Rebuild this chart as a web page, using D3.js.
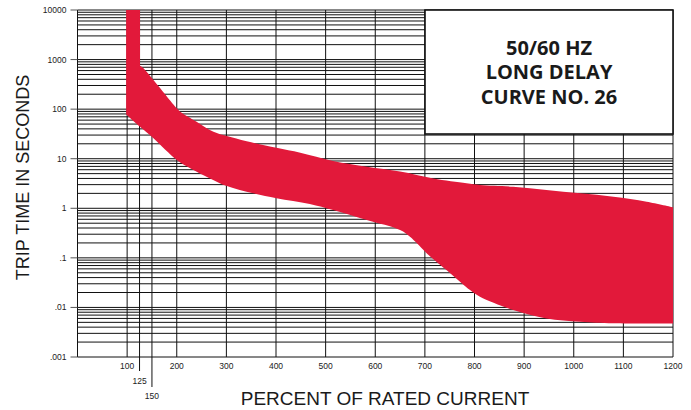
<!DOCTYPE html>
<html>
<head>
<meta charset="utf-8">
<script src="https://cdn.jsdelivr.net/npm/d3@7"></script>
<style>
  body { margin: 0; background: #fff; }
  svg { display: block; }
</style>
</head>
<body>
<div id="chartDiv"></div>
<script>
  // tick values
  const xTicks = [100, 200, 300, 400, 500, 600, 700, 800, 900, 1000, 1100, 1200];
  const xExtraTicks = [125, 150];
  const yDecades = [0.001, 0.01, 0.1, 1, 10, 100, 1000, 10000];
  const yTickLabels = [".001", ".01", ".1", "1", "10", "100", "1000", "10000"];

  // upper (max trip time) edge of the band: [percent, seconds]
  const upperCurve = [
      [126, 10000], [126, 750], [133, 667], [153, 387], [200, 104], [207, 89],
      [240, 56], [274, 35], [301, 28.7], [341, 22.5], [401, 16.6], [449, 13.2],
      [515, 9.0], [583, 6.9], [650, 5.5], [717, 4.0], [784, 3.2], [811, 2.95],
      [878, 2.72], [945, 2.34], [1013, 2.0], [1080, 1.71], [1147, 1.36], [1200, 1.05]
  ];
  // lower (min trip time) edge of the band
  const lowerCurve = [
      [98, 10000], [98, 78], [126, 44], [153, 25.8], [200, 9.4], [227, 6.4],
      [267, 4.0], [301, 2.8], [354, 2.0], [401, 1.59], [468, 1.22], [515, 0.92],
      [583, 0.58], [650, 0.365], [670, 0.267], [684, 0.196], [704, 0.123],
      [751, 0.049], [791, 0.0224], [811, 0.0164], [878, 0.0089], [945, 0.006],
      [1013, 0.00515], [1080, 0.00479], [1200, 0.00475]
  ];

  const titleLines = ["50/60 HZ", "LONG DELAY", "CURVE NO. 26"];

  const W = 691, H = 410;
  const margin = { top: 10, right: 18, bottom: 53, left: 77.5 };

  const svg = d3.select("#chartDiv")
      .append("svg")
      .attr("width", W)
      .attr("height", H);

  const x = d3.scaleLinear()
      .domain([0, 1200])
      .range([margin.left, W - margin.right]);
  const y = d3.scaleLog()
      .domain([0.001, 10000])
      .range([H - margin.bottom, margin.top]);

  const x0 = x(0), x1 = x(1200), yTop = y(10000), yBot = y(0.001);

  // horizontal log grid: 1..9 in each decade
  const minor = [];
  yDecades.forEach(function(d, i) {
      if (i === yDecades.length - 1) { minor.push(d); return; }
      for (let k = 1; k < 10; k++) minor.push(d * k);
  });
  svg.append("g")
      .selectAll("line")
      .data(minor)
      .enter()
      .append("line")
      .attr("x1", x0)
      .attr("x2", x1)
      .attr("y1", d => y(d))
      .attr("y2", d => y(d))
      .style("stroke", "#111")
      .style("stroke-width", 1);

  // vertical grid
  const vLines = [0].concat(xTicks, xExtraTicks);
  svg.append("g")
      .selectAll("line")
      .data(vLines)
      .enter()
      .append("line")
      .attr("x1", d => x(d))
      .attr("x2", d => x(d))
      .attr("y1", yTop)
      .attr("y2", function(d) {
          if (d === 125) return yBot + 14;
          if (d === 150) return yBot + 30;
          return yBot;
      })
      .style("stroke", "#111")
      .style("stroke-width", 1);

  // red band: straight vertical part, then smooth edges
  const edge = d3.line()
      .x(d => x(d[0]))
      .y(d => y(d[1]))
      .curve(d3.curveCatmullRom.alpha(0.5));
  const pt = d => x(d[0]) + "," + y(d[1]);
  const upPath = edge(upperCurve.slice(1));
  const lowPath = edge(lowerCurve.slice(1).reverse());
  const bandD = "M" + pt(lowerCurve[0]) + "L" + pt(upperCurve[0]) +
      "L" + upPath.slice(1) + "L" + lowPath.slice(1) + "Z";
  svg.append("path")
      .attr("d", bandD)
      .style("fill", "#e2193a")
      .style("stroke", "none");

  // y ticks and labels
  svg.append("g")
      .selectAll("line")
      .data(yDecades)
      .enter()
      .append("line")
      .attr("x1", x0 - 7)
      .attr("x2", x0)
      .attr("y1", d => y(d))
      .attr("y2", d => y(d))
      .style("stroke", "#555");
  svg.append("g")
      .selectAll("text")
      .data(yDecades)
      .enter()
      .append("text")
      .attr("x", x0 - 11)
      .attr("y", d => y(d))
      .attr("dy", "0.35em")
      .attr("text-anchor", "end")
      .style("font-family", "'Liberation Sans', Arial, sans-serif")
      .style("font-size", "8.5px")
      .style("fill", "#222")
      .text((d, i) => yTickLabels[i]);

  // x labels
  const xLabelData = xTicks.map(d => ({ v: d, y: yBot + 12 }))
      .concat([{ v: 125, y: yBot + 26.5 }, { v: 150, y: yBot + 42 }]);
  svg.append("g")
      .selectAll("text")
      .data(xLabelData)
      .enter()
      .append("text")
      .attr("x", d => x(d.v))
      .attr("y", d => d.y)
      .attr("text-anchor", "middle")
      .style("font-family", "'Liberation Sans', Arial, sans-serif")
      .style("font-size", "8.5px")
      .style("fill", "#222")
      .text(d => d.v);

  // axis titles
  svg.append("text")
      .attr("transform", "translate(28.5,177.5) rotate(-90)")
      .attr("text-anchor", "middle")
      .style("font-family", "'Liberation Sans', Arial, sans-serif")
      .style("font-size", "18px")
      .style("fill", "#1a1a1a")
      .text("TRIP TIME IN SECONDS");
  svg.append("text")
      .attr("x", 385)
      .attr("y", 405)
      .attr("text-anchor", "middle")
      .style("font-family", "'Liberation Sans', Arial, sans-serif")
      .style("font-size", "19px")
      .style("fill", "#1a1a1a")
      .text("PERCENT OF RATED CURRENT");

  // title box
  const boxX = 425, boxW = x1 - 425, boxH = 124;
  svg.append("rect")
      .attr("x", boxX)
      .attr("y", yTop)
      .attr("width", boxW)
      .attr("height", boxH)
      .style("fill", "#fff")
      .style("stroke", "#111")
      .style("stroke-width", 1.6);
  svg.append("g")
      .selectAll("text")
      .data(titleLines)
      .enter()
      .append("text")
      .attr("x", boxX + boxW / 2)
      .attr("y", (d, i) => yTop + 45 + i * 24.3)
      .attr("text-anchor", "middle")
      .style("font-family", "'Open Sans', sans-serif")
      .style("font-weight", "bold")
      .style("font-size", "20px")
      .style("fill", "#1a1a1a")
      .text(d => d);
</script>
</body>
</html>
